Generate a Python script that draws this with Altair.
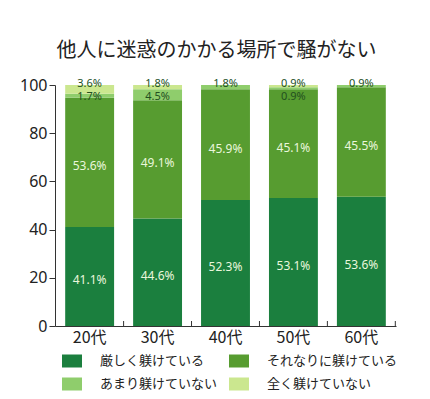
import altair as alt
import pandas as pd

ages = ["20代", "30代", "40代", "50代", "60代"]
categories = ["厳しく躾けている", "それなりに躾けている", "あまり躾けていない", "全く躾けていない"]
strict = [41.1, 44.6, 52.3, 53.1, 53.6]
moderate = [53.6, 49.1, 45.9, 45.1, 45.5]
little = [1.7, 4.5, 1.8, 0.9, 0.9]
none_ = [3.6, 1.8, 0.0, 0.9, 0.0]
colors = ["#1b7f3e", "#579c30", "#8fcd6c", "#cbe78f"]

series = [strict, moderate, little, none_]
rows = []
for i, age in enumerate(ages):
    start = 0.0
    vals = [s[i] for s in series]
    small_idx = [k for k in (3, 2) if vals[k] > 0]
    for k, cat in enumerate(categories):
        v = vals[k]
        end = start + v
        if k < 2:
            ly = (start + end) / 2
            big = True
        else:
            rank = small_idx.index(k) if v > 0 else 0
            ly = 100.6 - 5.6 * rank
            big = False
        rows.append(dict(age=age, cat=cat, order=k, v=v, y0=start, y1=end,
                         ly=ly, big=big, label=f"{v:.1f}%"))
        start = end
df = pd.DataFrame(rows)
df_lab = df[df.v > 0]

W, H = 341, 241
xenc = alt.X("age:N", sort=ages,
             scale=alt.Scale(paddingInner=0.28, paddingOuter=0.15),
             axis=alt.Axis(title=None, labelAngle=0, ticks=False, domainColor="#333",
                           labelFontSize=16, labelFont="Noto Sans CJK JP", labelColor="#222",
                           labelPadding=3))
yscale = alt.Scale(domain=[0, 100], nice=False)

legend_order = [categories[0], categories[2], categories[1], categories[3]]

bars = alt.Chart(df).mark_bar().encode(
    x=xenc,
    y=alt.Y("y0:Q", scale=yscale,
            axis=alt.Axis(title=None, values=[0, 20, 40, 60, 80, 100], grid=False,
                          domainColor="#333", tickColor="#333", tickSize=6,
                          labelFontSize=16, labelFont="Liberation Sans Narrow, Noto Sans",
                          labelColor="#222", labelPadding=2, minExtent=47, maxExtent=47)),
    y2="y1:Q",
    color=alt.Color("cat:N", sort=categories,
                    scale=alt.Scale(domain=categories, range=colors),
                    legend=alt.Legend(title=None, orient="none", legendX=7, legendY=266,
                                      values=legend_order,
                                      columns=2, columnPadding=11, rowPadding=6,
                                      symbolType="M-1,-0.65H1V0.65H-1Z", symbolSize=400,
                                      symbolOpacity=1, symbolStrokeWidth=0,
                                      labelFontSize=13, labelFont="Noto Sans CJK JP",
                                      labelColor="#222", labelOffset=18)),
)

big_lab = alt.Chart(df_lab[df_lab.big]).mark_text(
    fontSize=12, font="Liberation Sans Narrow, Noto Sans", color="#eaf7dc", dy=4
).encode(x=alt.X("age:N", sort=ages), y=alt.Y("ly:Q"), text="label:N")

small_lab = alt.Chart(df_lab[~df_lab.big]).mark_text(
    fontSize=11, font="Liberation Sans Narrow, Noto Sans", color="#23501f"
).encode(x=alt.X("age:N", sort=ages), y=alt.Y("ly:Q"), text="label:N")

ticks = alt.Chart(pd.DataFrame({"age": ages})).mark_rule(color="#333", xOffset=9.5).encode(
    x=alt.X("age:N", sort=ages, bandPosition=1),
    y=alt.value(H), y2=alt.value(H - 5),
)

chart = alt.layer(bars, big_lab, small_lab, ticks).properties(
    width=W, height=H,
    padding={"left": 0, "top": 33, "right": 10, "bottom": 5},
    title=alt.TitleParams("他人に迷惑のかかる場所で騒がない", fontSize=20,
                          font="Noto Sans CJK JP", fontWeight="normal", color="#222",
                          anchor="middle", dx=-9, offset=16),
).configure_view(stroke=None)

chart.save("out.html", embed_options={"renderer": "svg", "actions": False})
